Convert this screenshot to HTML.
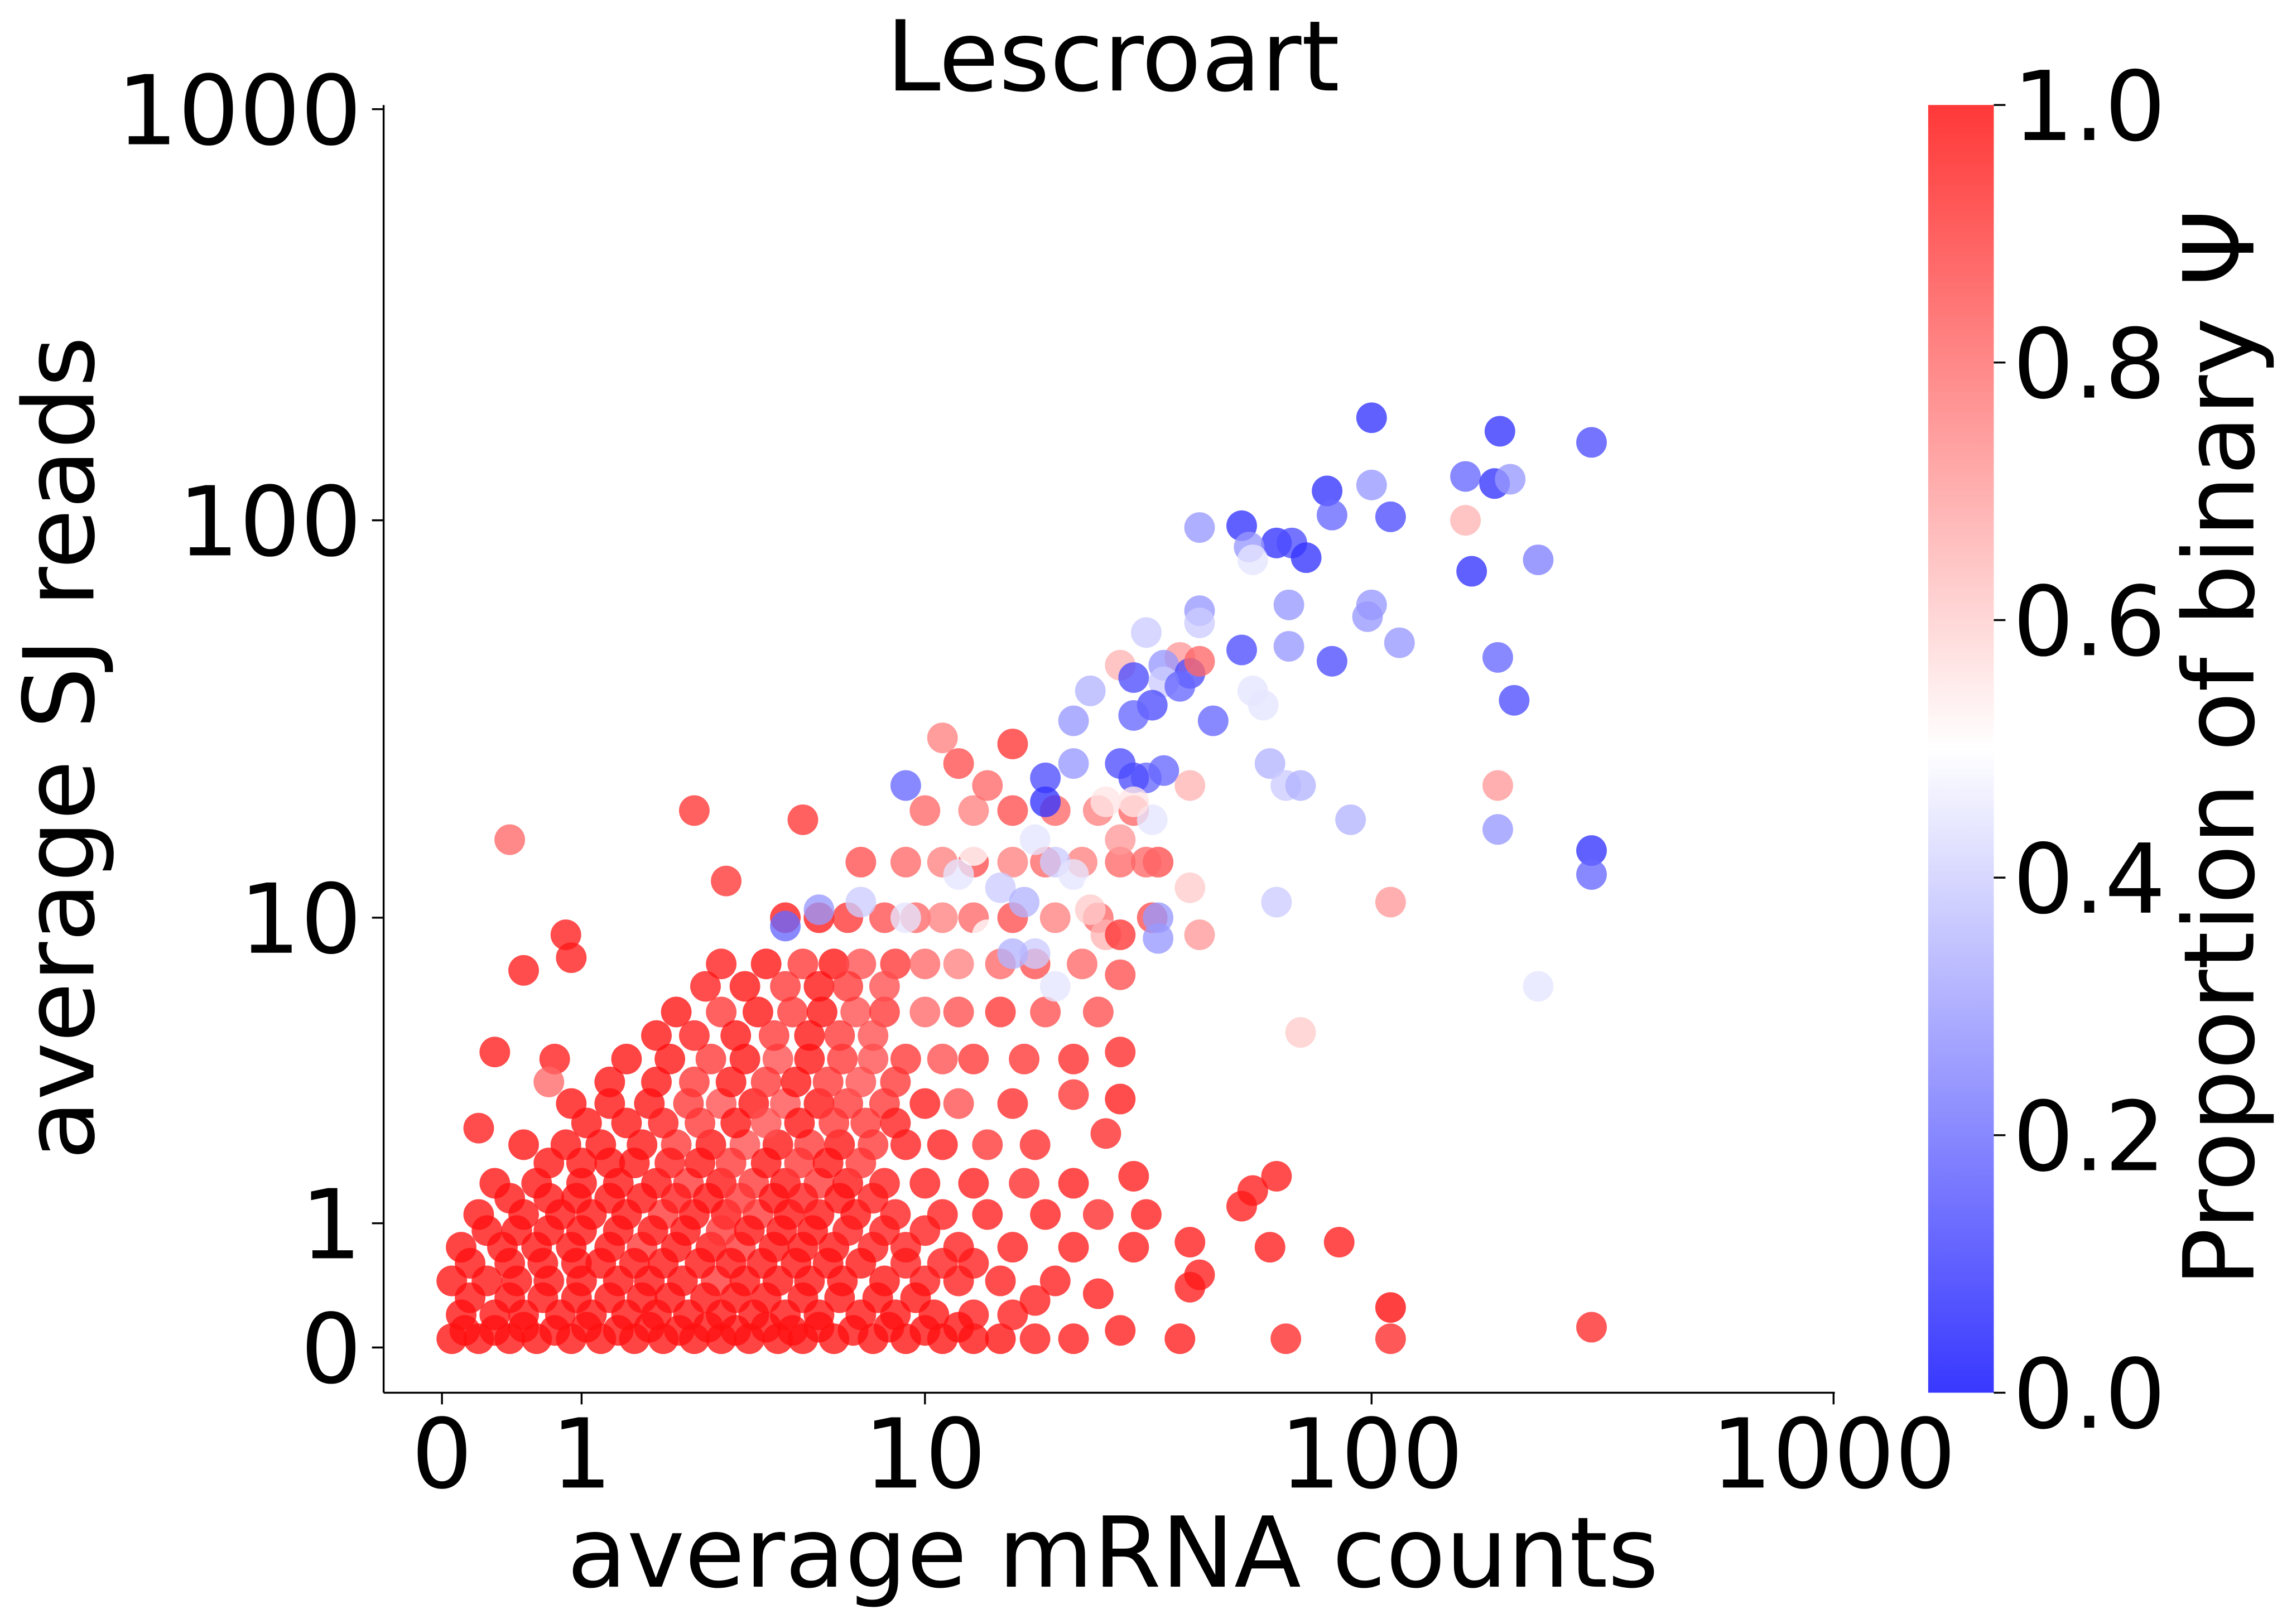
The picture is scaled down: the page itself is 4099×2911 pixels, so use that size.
<!DOCTYPE html>
<html><head><meta charset="utf-8"><style>
html,body{margin:0;padding:0;background:#fff;}
svg{display:block;font-family:"DejaVu Sans","Liberation Sans",sans-serif;}
</style></head><body>
<svg id="chart" width="4099" height="2911" viewBox="0 0 1568 1113.6" xmlns="http://www.w3.org/2000/svg">
<defs>
<linearGradient id="bwr" x1="0" y1="1" x2="0" y2="0">
<stop offset="0" stop-color="rgb(0,0,255)" stop-opacity="0.78"/>
<stop offset="0.5" stop-color="rgb(255,255,255)" stop-opacity="0.78"/>
<stop offset="1" stop-color="rgb(255,0,0)" stop-opacity="0.78"/>
</linearGradient>
</defs>
<text x="763" y="62" font-size="67" text-anchor="middle">Lescroart</text>
<g id="points"></g>
<g id="axes"></g>
<text x="763" y="1088" font-size="67" text-anchor="middle">average mRNA counts</text>
<text transform="translate(64,513) rotate(-90)" font-size="67" text-anchor="middle">average SJ reads</text>
<rect x="1322" y="72" width="45" height="883" fill="url(#bwr)"/>
<g id="cbar"></g>
<text transform="translate(1545,513) rotate(-90)" font-size="67" text-anchor="middle">Proportion of binary Ψ</text>
</svg>
<script>
const xTicks=[0,1,10,100,1000];
const xTickLabels=["0","1","10","100","1000"];
const yTicks=[0,1,10,100,1000];
const yTickLabels=["0","1","10","100","1000"];
const cTicks=[0,0.2,0.4,0.6,0.8,1.0];
const cTickLabels=["0.0","0.2","0.4","0.6","0.8","1.0"];
// [mRNA, SJ, psi]
const redCluster=[
[0.05,0.05,0.97],[0.2,0.05,0.97],[0.4,0.05,0.97],[0.6,0.05,0.97],[0.9,0.05,0.97],[1.2,0.05,0.97],[1.6,0.05,0.97],[2,0.05,0.97],[2.5,0.05,0.97],[3,0.05,0.97],[3.6,0.05,0.97],[4.3,0.05,0.97],[5,0.05,0.97],[6,0.05,0.97],[7.5,0.05,0.97],[9,0.05,0.97],[11,0.05,0.97],[13,0.05,0.97],[15,0.05,0.97],[18,0.05,0.95],[22,0.05,0.95],[28,0.1,0.95],[38,0.05,0.95],[65,0.05,0.92],[110,0.05,0.92],[300,0.12,0.92],
[0.1,0.2,0.97],[0.3,0.2,0.97],[0.5,0.2,0.97],[0.8,0.2,0.97],[1.1,0.2,0.97],[1.5,0.2,0.97],[1.9,0.2,0.97],[2.4,0.2,0.97],[3,0.2,0.97],[3.7,0.2,0.97],[4.5,0.2,0.97],[5.5,0.2,0.97],[7,0.2,0.97],[8.5,0.2,0.97],[10.5,0.2,0.97],[13,0.2,0.95],[16,0.2,0.95],[110,0.25,0.98],
[0.05,0.45,0.97],[0.25,0.45,0.97],[0.45,0.45,0.97],[0.7,0.45,0.97],[1,0.45,0.97],[1.4,0.45,0.97],[1.8,0.45,0.97],[2.3,0.45,0.97],[2.9,0.45,0.9],[3.5,0.45,0.97],[4.3,0.45,0.97],[5.2,0.45,0.97],[6.3,0.45,0.97],[8,0.45,0.97],[10,0.45,0.95],[12,0.45,0.95],[15,0.45,0.95],[20,0.45,0.95],[25,0.35,0.95],[40,0.4,0.95],[42,0.5,0.95],
[0.1,0.75,0.97],[0.35,0.75,0.97],[0.6,0.75,0.97],[0.9,0.75,0.97],[1.3,0.75,0.97],[1.7,0.75,0.9],[2.2,0.75,0.97],[2.8,0.75,0.97],[3.4,0.75,0.9],[4.2,0.75,0.97],[5,0.75,0.97],[6,0.75,0.97],[7.5,0.75,0.95],[9,0.75,0.95],[12,0.75,0.95],[16,0.75,0.95],[22,0.75,0.95],[30,0.75,0.95],[40,0.8,0.95],[60,0.75,0.95],[85,0.8,0.95],
[0.2,1.1,0.97],[0.5,1.1,0.97],[0.8,1.1,0.97],[1.1,1.1,0.97],[1.5,1.1,0.97],[2,1.1,0.9],[2.5,1.1,0.97],[3.1,1.1,0.97],[3.8,1.1,0.9],[4.6,1.1,0.97],[5.5,1.1,0.97],[6.8,1.1,0.97],[8.5,1.1,0.95],[11,1.1,0.95],[14,1.1,0.95],[19,1.1,0.95],[25,1.1,0.92],[32,1.1,0.95],[52,1.2,0.95],
[0.3,1.5,0.97],[0.6,1.5,0.97],[1,1.5,0.97],[1.4,1.5,0.97],[1.9,1.5,0.97],[2.4,1.5,0.9],[3,1.5,0.97],[3.7,1.5,0.9],[4.5,1.5,0.97],[5.5,1.5,0.9],[6.5,1.5,0.97],[8,1.5,0.95],[10,1.5,0.95],[13,1.5,0.95],[17,1.5,0.92],[22,1.5,0.95],[30,1.6,0.95],[55,1.4,0.95],[62,1.6,0.95],
[0.5,2.1,0.97],[0.85,2.1,0.97],[1.2,2.1,0.97],[1.7,2.1,0.97],[2.2,2.1,0.9],[2.8,2.1,0.97],[3.5,2.1,0.85],[4.3,2.1,0.97],[5.2,2.1,0.9],[6.2,2.1,0.97],[7.5,2.1,0.9],[9,2.1,0.95],[11,2.1,0.95],[14,2.1,0.9],[18,2.1,0.92],[26,2.3,0.92],
[0.9,2.9,0.97],[1.3,2.9,0.97],[1.8,2.9,0.97],[2.4,2.9,0.9],[3,2.9,0.85],[3.7,2.9,0.97],[4.5,2.9,0.85],[5.5,2.9,0.97],[6.5,2.9,0.9],[8,2.9,0.9],[10,2.9,0.95],[12,2.9,0.85],[16,2.9,0.92],[22,3.1,0.9],[28,3,0.95],
[1.5,4,0.97],[2.1,4,0.97],[2.8,4,0.9],[3.5,4,0.97],[4.3,4,0.85],[5.2,4,0.97],[6.3,4,0.9],[7.5,4,0.85],[9,4,0.9],[11,4,0.85],[13,4,0.9],[17,4,0.9],[22,4,0.92],[28,4.2,0.92],
[2.2,5.5,0.97],[3,5.5,0.9],[3.8,5.5,0.97],[4.7,5.5,0.9],[5.6,5.5,0.97],[6.8,5.5,0.85],[8,5.5,0.9],[10,5.5,0.8],[12,5.5,0.85],[15,5.5,0.9],[19,5.5,0.85],[25,5.5,0.85],
[3,7.5,0.95],[4,7.5,0.97],[5,7.5,0.9],[6,7.5,0.97],[7,7.5,0.85],[8.5,7.5,0.9],[10,7.5,0.8],[12,7.5,0.75],[15,7.5,0.8],[18,7.5,0.85],[23,7.5,0.8],[28,7,0.85],
[4.5,10,0.95],[5.5,10,0.95],[6.5,10,0.9],[8,10,0.85],[9.5,10,0.8],[11,10,0.75],[13,10,0.8],[16,10,0.85],[20,10,0.75],[25,10,0.8],[33,10,0.85],
[7,14,0.85],[9,14,0.8],[11,14,0.75],[13,14,0.85],[16,14,0.75],[19,14,0.8],[23,14,0.75],[28,14,0.8],[34,14,0.85],
[10,19,0.8],[13,19,0.75],[16,19,0.85],[20,19,0.8],[25,19,0.75],[30,19,0.8],
[0.4,16,0.8],[0.5,7.2,0.95],[0.85,9,0.95],[0.9,7.8,0.95],[0.3,4.2,0.95],[0.75,4,0.95],[0.7,3.4,0.8],[0.2,2.4,0.95],[2.5,19,0.9],[5,18,0.9],[3.1,12.5,0.9],[11,29,0.75],[16,28,0.9],[12,25,0.85],[14,22,0.8]
];
const fillCluster=[
[0.12,0.1,0.97],[0.3,0.1,0.97],[0.5,0.12,0.97],[0.75,0.1,0.97],[1.05,0.12,0.97],[1.4,0.1,0.97],[1.8,0.12,0.97],[2.25,0.1,0.97],[2.75,0.12,0.97],[3.3,0.1,0.97],[4,0.12,0.97],[4.7,0.1,0.97],[5.5,0.12,0.97],[6.7,0.1,0.97],[8.2,0.12,0.97],[10,0.1,0.97],[12,0.12,0.97],
[0.15,0.32,0.97],[0.4,0.32,0.97],[0.65,0.32,0.97],[0.95,0.32,0.97],[1.3,0.32,0.97],[1.7,0.32,0.97],[2.1,0.32,0.97],[2.7,0.32,0.97],[3.3,0.32,0.97],[4,0.32,0.97],[5,0.32,0.97],[6.2,0.32,0.97],[7.7,0.32,0.97],[9.5,0.32,0.97],[18,0.3,0.95],
[0.15,0.6,0.97],[0.4,0.6,0.97],[0.65,0.6,0.97],[0.95,0.6,0.97],[1.2,0.6,0.97],[1.6,0.6,0.97],[2,0.6,0.97],[2.6,0.6,0.97],[3.2,0.6,0.97],[3.9,0.6,0.97],[4.8,0.6,0.97],[5.8,0.6,0.97],[7,0.6,0.97],[9,0.6,0.95],[11,0.6,0.95],[13,0.6,0.95],
[0.25,0.92,0.97],[0.45,0.92,0.97],[0.7,0.92,0.97],[1,0.92,0.97],[1.4,0.92,0.97],[1.85,0.92,0.97],[2.35,0.92,0.97],[3,0.92,0.9],[3.6,0.92,0.97],[4.4,0.92,0.97],[5.3,0.92,0.97],[6.5,0.92,0.95],[8,0.92,0.95],[10,0.92,0.95],
[0.4,1.3,0.97],[0.7,1.3,0.97],[0.95,1.3,0.97],[1.3,1.3,0.97],[1.7,1.3,0.97],[2.2,1.3,0.95],[2.75,1.3,0.97],[3.4,1.3,0.9],[4.2,1.3,0.97],[5,1.3,0.95],[6.2,1.3,0.97],[7.5,1.3,0.95],
[0.7,1.8,0.97],[1,1.8,0.97],[1.3,1.8,0.97],[1.6,1.8,0.97],[2.1,1.8,0.95],[2.6,1.8,0.97],[3.2,1.8,0.9],[4,1.8,0.97],[4.9,1.8,0.9],[5.8,1.8,0.97],[7,1.8,0.9],
[1.05,2.5,0.97],[1.5,2.5,0.97],[2,2.5,0.95],[2.6,2.5,0.9],[3.3,2.5,0.97],[4,2.5,0.85],[4.9,2.5,0.97],[6,2.5,0.9],[7.2,2.5,0.9],[8.5,2.5,0.95],
[1.3,3.4,0.97],[1.9,3.4,0.97],[2.5,3.4,0.9],[3.2,3.4,0.97],[4,3.4,0.9],[4.8,3.4,0.97],[5.8,3.4,0.9],[7,3.4,0.85],[8.5,3.4,0.9],
[1.9,4.7,0.97],[2.5,4.7,0.95],[3.3,4.7,0.97],[4.2,4.7,0.9],[5.2,4.7,0.97],[6.2,4.7,0.9],[7.5,4.7,0.85],
[2.7,6.5,0.95],[3.5,6.5,0.97],[4.5,6.5,0.9],[5.5,6.5,0.97],[6.5,6.5,0.9],[8,6.5,0.85]
];
const diagonalPoints=[
[100,178,0.1],[190,165,0.1],[300,155,0.15],[80,118,0.1],[100,122,0.3],[160,128,0.2],[185,123,0.1],[200,126,0.3],[110,102,0.15],[82,103,0.2],[160,100,0.65],[42,96,0.3],[52,97,0.1],[62,88,0.1],[67,88,0.15],[72,81,0.1],[54,86,0.3],[55,80,0.45],[165,75,0.1],[230,80,0.25],[42,60,0.3],[66,62,0.3],[100,62,0.3],[98,58,0.3],[115,50,0.3],[66,49,0.3],[52,48,0.15],[82,45,0.15],[188,46,0.2],[204,36,0.15],[32,53,0.4],[42,56,0.4],[38,46,0.7],[28,44,0.65],[35,44,0.3],[40,42,0.15],[30,41,0.15],[35,40,0.4],[38,39,0.2],[33,35,0.15],[30,33,0.2],[45,32,0.2],[55,38,0.45],[58,35,0.45],[24,38,0.35],[22,32,0.3],[22,25,0.3],[28,25,0.15],[35,24,0.2],[32,23,0.2],[30,23,0.15],[19,23,0.15],[19,20,0.1],[9,22,0.2],[40,22,0.65],[60,25,0.35],[65,22,0.4],[70,22,0.35],[90,18,0.35],[188,17,0.3],[188,22,0.7],[300,15,0.1],[300,13,0.2],[110,11,0.7],[62,11,0.4],[34,10,0.3],[34,8.8,0.3],[42,9,0.7],[40,12,0.6],[230,6.5,0.45],[70,4.8,0.6],[20,6.5,0.45],[18,8,0.4],[5.5,10.5,0.3],[4.5,9.5,0.2],[7,11,0.4],[9,10,0.45],[12,13,0.45],[15,12,0.4],[17,11,0.35],[14,9,0.5],[16,8,0.35],[13,15,0.5],[18,16,0.45],[20,14,0.4],[22,13,0.45],[25,12,0.5],[28,16,0.7],[26,20,0.55],[33,18,0.45],[30,20,0.55],[26,9,0.65],[32,14,0.8],[42,45,0.8],[28,9,0.9],[24,10.5,0.6]
];
const NS="http://www.w3.org/2000/svg";
function xPos(v){return 303+318*Math.log10(1+v);}
function yPos(v){return 924-283*Math.log10(1+v);}
function cPos(v){return 955-883*v;}
function colorOf(c){
  let r,g,b;
  if(c<0.5){r=Math.round(510*c);g=r;b=255;}else{r=255;g=Math.round(510*(1-c));b=g;}
  return "rgb("+r+","+g+","+b+")";
}
const pg=document.getElementById('points');
function drawPts(arr){
  for(const p of arr){
    const el=document.createElementNS(NS,'circle');
    
    
    el.setAttribute('cx',xPos(p[0]));el.setAttribute('cy',yPos(p[1]));
    el.setAttribute('r',10.5);el.setAttribute('fill',colorOf(p[2]));el.setAttribute('fill-opacity',0.78);
    pg.appendChild(el);
  }
}
drawPts(redCluster);drawPts(fillCluster);drawPts(diagonalPoints);
const ax=document.getElementById('axes');
function add(parent,tag,attrs,text){
  const el=document.createElementNS(NS,tag);
  for(const k in attrs)el.setAttribute(k,attrs[k]);
  if(text!==undefined)el.textContent=text;
  parent.appendChild(el);return el;
}
let e;
e=add(ax,'line',{x1:263,y1:72,x2:263,y2:955,stroke:'#000','stroke-width':1.3});


e=add(ax,'line',{x1:263,y1:955,x2:1258,y2:955,stroke:'#000','stroke-width':1.3});


xTicks.forEach((t,i)=>{
  const x=xPos(t);
  e=add(ax,'line',{x1:x,y1:955,x2:x,y2:963,stroke:'#000','stroke-width':1.3});
  
  
  e=add(ax,'text',{x:x,y:1020,'font-size':66,'text-anchor':'middle'},xTickLabels[i]);
  
  
});
yTicks.forEach((t,i)=>{
  const y=yPos(t);
  e=add(ax,'line',{x1:255,y1:y,x2:263,y2:y,stroke:'#000','stroke-width':1.3});
  
  
  e=add(ax,'text',{x:248,y:y+24,'font-size':66,'text-anchor':'end'},yTickLabels[i]);
  
  
});
const cb=document.getElementById('cbar');
cTicks.forEach((t,i)=>{
  const y=cPos(t);
  e=add(cb,'line',{x1:1367,y1:y,x2:1375,y2:y,stroke:'#000','stroke-width':1.3});
  
  
  e=add(cb,'text',{x:1380,y:y+24,'font-size':66},cTickLabels[i]);
  
  
});
</script>
</body></html>
